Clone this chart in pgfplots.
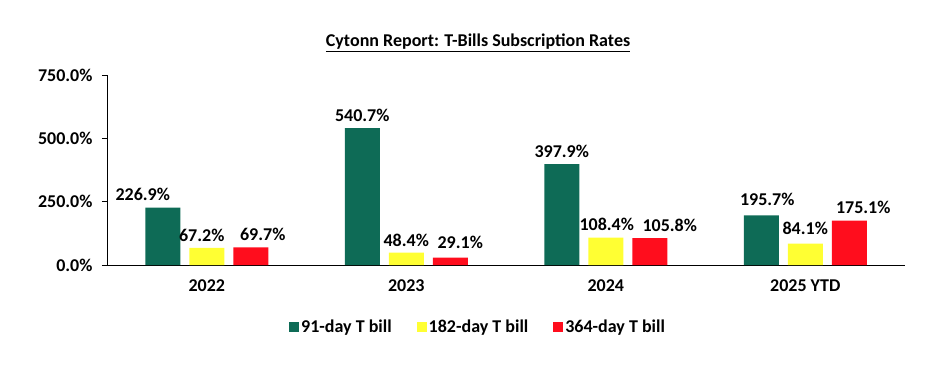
\documentclass[border=0pt]{standalone}
\usepackage{pgfplots}
\pgfplotsset{compat=1.18}
\usepackage{pgfplotstable}
\usepackage{fontspec}
\setmainfont{Carlito}
\definecolor{cgreen}{RGB}{14,107,86}
\definecolor{cyellow}{RGB}{255,255,51}
\definecolor{cred}{RGB}{255,13,29}

\pgfplotstableread{
x y dx dy
0 226.9 -20 0
1 540.7 0 0
2 397.9 0 0
3 195.7 6 3
}\greentab
\pgfplotstableread{
x y dx dy
0 67.2 -5 0
1 48.4 0 0
2 108.4 1 0
3 84.1 0 3
}\yellowtab
\pgfplotstableread{
x y dx dy
0 69.7 12 0
1 29.1 10 2
2 105.8 20 0
3 175.1 14 0
}\redtab

\begin{document}
\begin{tikzpicture}
\useasboundingbox (0,0) rectangle (936pt,364pt);
\node[font=\bfseries\fontsize{18}{21}\selectfont] at (478pt,321pt) {\underline{Cytonn Report: T-Bills Subscription Rates}};
\begin{axis}[
  at={(107pt,99pt)}, anchor=south west,
  scale only axis, width=798pt, height=190pt,
  ybar=9pt, bar width=35pt,
  xmin=-0.5, xmax=3.5, ymin=0, ymax=750,
  axis x line=bottom, axis y line=left,
  axis line style={-, line width=1pt, black},
  xtick={0,1,2,3},
  xticklabels={2022,2023,2024,2025 YTD},
  ytick={0,250,500,750},
  yticklabel={\pgfmathprintnumber[fixed,fixed zerofill,precision=1]{\tick}\%},
  /pgf/number format/assume math mode=true,
  ticklabel style={font=\bfseries\fontsize{18}{21}\selectfont},
  x tick label style={yshift=-6pt},
  y tick label style={xshift=-6pt},
  major x tick style={draw=none},
  major y tick style={line width=1pt, black},
  tick align=outside, major tick length=5pt,
  point meta=y,
  nodes near coords={\pgfmathprintnumber[fixed,fixed zerofill,precision=1]{\pgfplotspointmeta}\%},
  visualization depends on={\thisrow{dx} \as \dx},
  visualization depends on={\thisrow{dy} \as \dy},
  nodes near coords style={font=\bfseries\fontsize{18}{21}\selectfont, xshift=\dx pt, yshift=\dy pt+3pt},
  legend columns=3,
  legend style={draw=none, fill=none, at={(0.465,-0.326)}, anchor=center,
    font=\bfseries\fontsize{18}{21}\selectfont,
    /tikz/every even column/.append style={column sep=23pt}},
  legend image code/.code={\fill[#1] (0pt,-5pt) rectangle (10pt,5pt);},
]
\addplot[fill=cgreen, draw=none] table[x=x,y=y] {\greentab};
\addlegendentry{91-day T bill}
\addplot[fill=cyellow, draw=none] table[x=x,y=y] {\yellowtab};
\addlegendentry{182-day T bill}
\addplot[fill=cred, draw=none] table[x=x,y=y] {\redtab};
\addlegendentry{364-day T bill}
\end{axis}
\end{tikzpicture}
\end{document}
